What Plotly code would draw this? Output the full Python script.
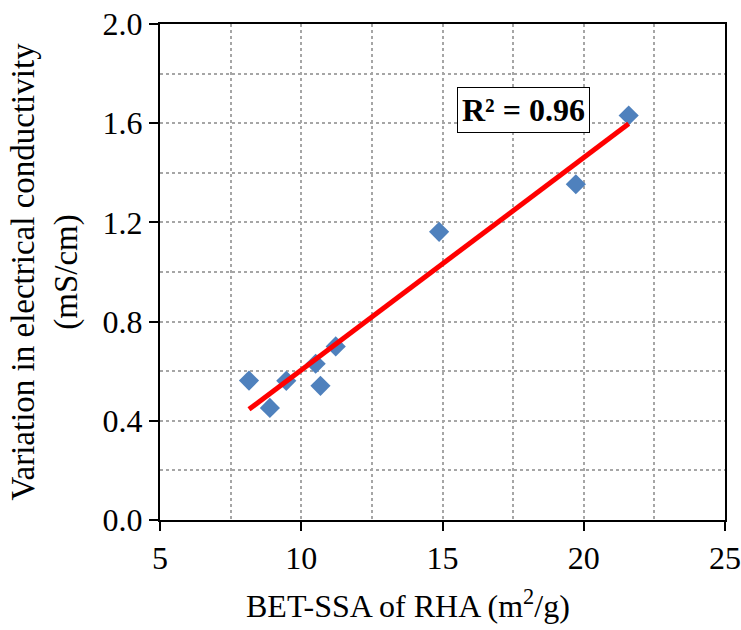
import numpy as np
import plotly.graph_objects as go

bet_ssa = [8.15, 8.89, 9.47, 10.51, 10.68, 11.22, 14.88, 19.72, 21.59]
ec_var = [0.562, 0.452, 0.561, 0.630, 0.541, 0.700, 1.162, 1.354, 1.631]
x_ticks = [5, 10, 15, 20, 25]
y_ticks = [0.0, 0.4, 0.8, 1.2, 1.6, 2.0]
r2_label = "R² = 0.96"
x_title = "BET-SSA of RHA (m<sup>2</sup>/g)"
y_title = "Variation in electrical conductivity<br>(mS/cm)"

slope, intercept = np.polyfit(bet_ssa, ec_var, 1)
x_fit = np.array([min(bet_ssa), max(bet_ssa)])
y_fit = slope * x_fit + intercept

font_family = "Liberation Serif, Times New Roman, serif"

fig = go.Figure()
fig.add_trace(go.Scatter(
    x=bet_ssa, y=ec_var, mode="markers",
    marker=dict(symbol="diamond", size=15.5, color="#4F81BD", line=dict(width=0)),
    showlegend=False,
))
fig.add_trace(go.Scatter(
    x=x_fit, y=y_fit, mode="lines",
    line=dict(color="#FF0000", width=5),
    showlegend=False,
))

fig.add_annotation(
    x=17.85, y=1.654, xref="x", yref="y", text="<b>" + r2_label + "</b>",
    showarrow=False, font=dict(family=font_family, size=32, color="black"),
    bgcolor="white", bordercolor="black", borderwidth=1, borderpad=4,
)

fig.add_annotation(
    x=0.439, y=-0.170, xref="paper", yref="paper", text=x_title,
    showarrow=False, xanchor="center", yanchor="middle",
    font=dict(family=font_family, size=32, color="black"),
)

grid_common = dict(gridcolor="#A6A6A6", griddash="dot", gridwidth=1.5)

fig.update_xaxes(
    range=[5, 25], tickvals=x_ticks, ticktext=[str(v) for v in x_ticks],
    showline=True, linecolor="black", linewidth=2, mirror=True,
    ticks="outside", ticklen=9, tickwidth=2, tickcolor="black",
    showgrid=True, **grid_common,
    minor=dict(dtick=2.5, tick0=5, showgrid=True, ticks="", **grid_common),
    zeroline=False, automargin=False,
    tickfont=dict(family=font_family, size=32, color="black"),
)
fig.update_yaxes(
    range=[0, 2.0], tickvals=y_ticks, ticktext=["%.1f" % v for v in y_ticks],
    showline=True, linecolor="black", linewidth=2, mirror=True,
    ticks="outside", ticklen=9, tickwidth=2, tickcolor="black",
    showgrid=True, **grid_common,
    minor=dict(dtick=0.2, tick0=0, showgrid=True, ticks="", **grid_common),
    zeroline=False, automargin=False,
    tickfont=dict(family=font_family, size=32, color="black"),
    title=dict(text=y_title,
               font=dict(family=font_family, size=33, color="black")),
)

fig.update_layout(
    width=741, height=630,
    margin=dict(l=160, r=16, t=24, b=110),
    plot_bgcolor="white", paper_bgcolor="white",
)

fig.write_html("out.html")
